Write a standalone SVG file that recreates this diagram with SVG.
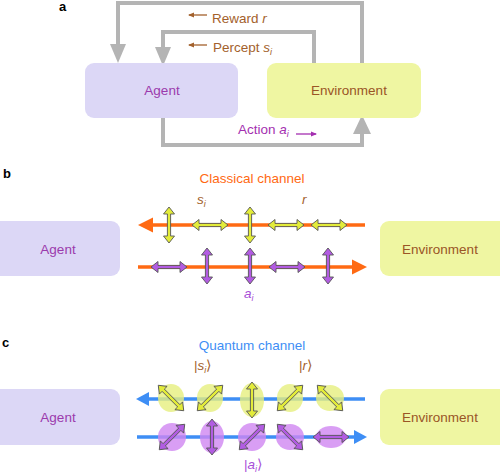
<svg xmlns="http://www.w3.org/2000/svg" width="500" height="475" viewBox="0 0 500 475">
<style>
text{font-family:"Liberation Sans",Arial,sans-serif}
.lbl{font-weight:bold;font-size:13px;fill:#000}
.node{font-size:13.5px}
.ag{fill:#dcd7f6}
.en{fill:#eff6a2}
.agt{fill:#9b3aac}
.ent{fill:#9a5526}
.brown{fill:#a3612c;font-size:13.5px}
.purp{fill:#a42fb0;font-size:13.5px}
.gray{fill:none;stroke:#b4b4b4;stroke-width:4}
.garr{fill:#b4b4b4}
.or{stroke:#ff6a13;stroke-width:3.5;fill:none}
.orh{fill:#ff6a13}
.bl{stroke:#3e8ef5;stroke-width:3.5;fill:none}
.blh{fill:#3e8ef5}
.ya{fill:#e3ec3a;stroke:#555;stroke-width:0.9}
.pa{fill:#b25ce2;stroke:#555;stroke-width:0.9}
.ye{fill:#e6ef7e;opacity:0.8}
.pe{fill:#cf86f1;opacity:0.8}
</style>
<defs>
<path id="dbl" d="M-18,0 L-11,-5.5 L-11,-1.6 L11,-1.6 L11,-5.5 L18,0 L11,5.5 L11,1.6 L-11,1.6 L-11,5.5 Z"/>
<marker id="sm" viewBox="0 0 6 6" refX="5" refY="3" markerWidth="6" markerHeight="6" orient="auto" markerUnits="userSpaceOnUse"><path d="M0,0.5 L6,3 L0,5.5 Z" fill="context-stroke"/></marker>
</defs>

<!-- Panel a -->
<text class="lbl" x="59" y="11">a</text>
<g id="connectors-a">
<polyline class="gray" points="118,48 118,3 362,3 362,63"/>
<path class="garr" d="M110,44 L126,44 L118,63 Z"/>
<polyline class="gray" points="163,51 163,32 314,32 314,63"/>
<path class="garr" d="M155,47 L171,47 L163,66 Z"/>
<polyline class="gray" points="163,118 163,145 362,145 362,130"/>
<path class="garr" d="M353,134 L371,134 L362,115 Z"/>
<line x1="207" y1="15" x2="189" y2="15" stroke="#a3612c" stroke-width="1.3" marker-end="url(#sm)"/>
<line x1="207" y1="45" x2="189" y2="45" stroke="#a3612c" stroke-width="1.3" marker-end="url(#sm)"/>
<line x1="296" y1="134" x2="316" y2="134" stroke="#a42fb0" stroke-width="1.3" marker-end="url(#sm)"/>
<text class="brown" x="212" y="23">Reward <tspan font-style="italic">r</tspan></text>
<text class="brown" x="213" y="52">Percept <tspan font-style="italic">s</tspan><tspan font-style="italic" font-size="9" dy="3">i</tspan></text>
<text class="purp" x="238" y="134">Action <tspan font-style="italic">a</tspan><tspan font-style="italic" font-size="9" dy="3">i</tspan></text>
</g>
<g id="agent-a">
<rect class="ag" x="85" y="63" width="153" height="55" rx="9"/>
<text class="node agt" x="162" y="95" text-anchor="middle">Agent</text>
</g>
<g id="environment-a">
<rect class="en" x="267" y="63" width="154" height="55" rx="9"/>
<text class="node ent" x="349" y="95" text-anchor="middle">Environment</text>
</g>

<!-- Panel b -->
<text class="lbl" x="3" y="178">b</text>
<text x="252" y="183" text-anchor="middle" font-size="13.5" fill="#ff6a13">Classical channel</text>
<g id="agent-b">
<rect class="ag" x="-8" y="221" width="128" height="55" rx="9"/>
<text class="node agt" x="58" y="254" text-anchor="middle">Agent</text>
</g>
<g id="environment-b">
<rect class="en" x="380" y="221" width="128" height="55" rx="9"/>
<text class="node ent" x="440" y="254" text-anchor="middle">Environment</text>
</g>
<g id="connectors-b">
<line class="or" x1="150" y1="225" x2="365" y2="225"/>
<path class="orh" d="M138,225 L153,217.5 L153,232.5 Z"/>
<line class="or" x1="138" y1="267" x2="356" y2="267"/>
<path class="orh" d="M367,267 L352,259.5 L352,274.5 Z"/>
<use href="#dbl" class="ya" transform="translate(169,225) rotate(90)"/>
<use href="#dbl" class="ya" transform="translate(210,225)"/>
<use href="#dbl" class="ya" transform="translate(250,225) rotate(90)"/>
<use href="#dbl" class="ya" transform="translate(286,225)"/>
<use href="#dbl" class="ya" transform="translate(329,225)"/>
<use href="#dbl" class="pa" transform="translate(169,267)"/>
<use href="#dbl" class="pa" transform="translate(207,266) rotate(90)"/>
<use href="#dbl" class="pa" transform="translate(250,266) rotate(90)"/>
<use href="#dbl" class="pa" transform="translate(287,267)"/>
<use href="#dbl" class="pa" transform="translate(328,266) rotate(90)"/>
<text x="197" y="204" font-size="13.5" font-style="italic" fill="#a3612c">s<tspan font-size="9" dy="3">i</tspan></text>
<text x="302" y="204" font-size="13.5" font-style="italic" fill="#a3612c">r</text>
<text x="244" y="298" font-size="13.5" font-style="italic" fill="#a84fd8">a<tspan font-size="9" dy="3">i</tspan></text>
</g>

<!-- Panel c -->
<text class="lbl" x="2" y="347">c</text>
<text x="252" y="350" text-anchor="middle" font-size="13.5" fill="#3e8ef5">Quantum channel</text>
<g id="agent-c">
<rect class="ag" x="-8" y="389" width="128" height="56" rx="9"/>
<text class="node agt" x="58" y="422" text-anchor="middle">Agent</text>
</g>
<g id="environment-c">
<rect class="en" x="380" y="389" width="128" height="56" rx="9"/>
<text class="node ent" x="440" y="422" text-anchor="middle">Environment</text>
</g>
<g id="connectors-c">
<line class="bl" x1="146" y1="399" x2="365" y2="399"/>
<path class="blh" d="M136,399 L149,392 L149,406 Z"/>
<line class="bl" x1="137" y1="437" x2="357" y2="437"/>
<path class="blh" d="M367,437 L354,430 L354,444 Z"/>
<ellipse class="ye" cx="171" cy="398" rx="13" ry="14"/>
<ellipse class="ye" cx="210" cy="398" rx="13" ry="14"/>
<ellipse class="ye" cx="252" cy="400" rx="12" ry="17"/>
<ellipse class="ye" cx="290" cy="398" rx="13" ry="14"/>
<ellipse class="ye" cx="330" cy="398" rx="14" ry="13"/>
<ellipse class="pe" cx="172" cy="437" rx="14" ry="14"/>
<ellipse class="pe" cx="212" cy="437" rx="12" ry="16"/>
<ellipse class="pe" cx="252" cy="437" rx="14" ry="14"/>
<ellipse class="pe" cx="290" cy="437" rx="14" ry="13"/>
<ellipse class="pe" cx="331" cy="437" rx="15" ry="11"/>
<use href="#dbl" class="ya" transform="translate(171,398) rotate(45)"/>
<use href="#dbl" class="ya" transform="translate(210,398) rotate(-45)"/>
<use href="#dbl" class="ya" transform="translate(252,400) rotate(90)"/>
<use href="#dbl" class="ya" transform="translate(290,398) rotate(-45)"/>
<use href="#dbl" class="ya" transform="translate(330,398) rotate(45)"/>
<use href="#dbl" class="pa" transform="translate(172,437) rotate(-45)"/>
<use href="#dbl" class="pa" transform="translate(212,437) rotate(90)"/>
<use href="#dbl" class="pa" transform="translate(252,437) rotate(-45)"/>
<use href="#dbl" class="pa" transform="translate(290,437) rotate(45)"/>
<use href="#dbl" class="pa" transform="translate(331,437)"/>
<text x="194" y="370" font-size="13.5" fill="#a3612c">|<tspan font-style="italic">s</tspan><tspan font-style="italic" font-size="9" dy="3">i</tspan><tspan dy="-3">⟩</tspan></text>
<text x="299" y="370" font-size="13.5" fill="#a3612c">|<tspan font-style="italic">r</tspan>⟩</text>
<text x="244" y="469" font-size="13.5" fill="#a84fd8">|<tspan font-style="italic">a</tspan><tspan font-style="italic" font-size="9" dy="3">i</tspan><tspan dy="-3">⟩</tspan></text>
</g>
</svg>
